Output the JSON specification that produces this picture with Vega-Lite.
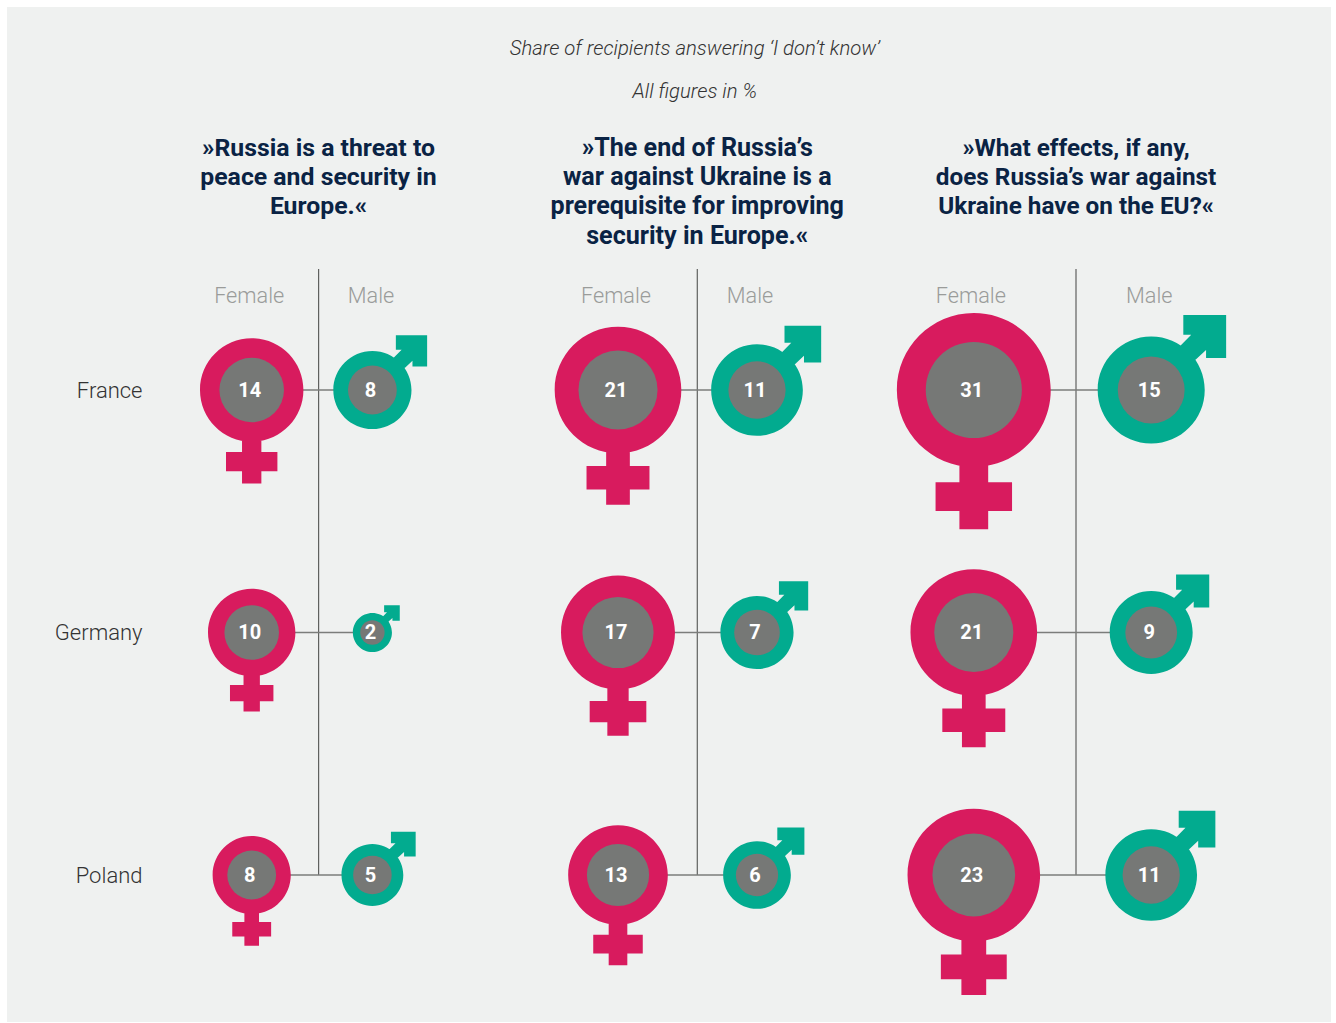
{
"$schema":"https://vega.github.io/schema/vega-lite/v6.json",
"width":1324,"height":1015,
"autosize":{"type":"none"},
"padding":{"left":7,"top":7,"right":5,"bottom":1},
"background":"#ffffff",
"view":{"fill":"#eff1f0","stroke":null},
"config":{"font":"Roboto","text":{"font":"Roboto"},"axis":{"labelFont":"Roboto"}},
"datasets":{
"answers":[
{"question":"Q1","country":"France","gender":"Female","share":14},
{"question":"Q1","country":"France","gender":"Male","share":8},
{"question":"Q1","country":"Germany","gender":"Female","share":10},
{"question":"Q1","country":"Germany","gender":"Male","share":2},
{"question":"Q1","country":"Poland","gender":"Female","share":8},
{"question":"Q1","country":"Poland","gender":"Male","share":5},
{"question":"Q2","country":"France","gender":"Female","share":21},
{"question":"Q2","country":"France","gender":"Male","share":11},
{"question":"Q2","country":"Germany","gender":"Female","share":17},
{"question":"Q2","country":"Germany","gender":"Male","share":7},
{"question":"Q2","country":"Poland","gender":"Female","share":13},
{"question":"Q2","country":"Poland","gender":"Male","share":6},
{"question":"Q3","country":"France","gender":"Female","share":31},
{"question":"Q3","country":"France","gender":"Male","share":15},
{"question":"Q3","country":"Germany","gender":"Female","share":21},
{"question":"Q3","country":"Germany","gender":"Male","share":9},
{"question":"Q3","country":"Poland","gender":"Female","share":23},
{"question":"Q3","country":"Poland","gender":"Male","share":11}
],
"dividers":[
{"question":"Q1","level":"top"},{"question":"Q1","level":"Poland"},
{"question":"Q2","level":"top"},{"question":"Q2","level":"Poland"},
{"question":"Q3","level":"top"},{"question":"Q3","level":"Poland"}
],
"genders":[{"gender":"Female"},{"gender":"Male"}],
"titles":[
{"question":"Q1","line":"1","text":"»Russia is a threat to"},
{"question":"Q1","line":"2","text":"peace and security in"},
{"question":"Q1","line":"3","text":"Europe.«"},
{"question":"Q2","line":"1","text":"»The end of Russia’s"},
{"question":"Q2","line":"2","text":"war against Ukraine is a"},
{"question":"Q2","line":"3","text":"prerequisite for improving"},
{"question":"Q2","line":"4","text":"security in Europe.«"},
{"question":"Q3","line":"1","text":"»What effects, if any,"},
{"question":"Q3","line":"2","text":"does Russia’s war against"},
{"question":"Q3","line":"3","text":"Ukraine have on the EU?«"}
],
"notes":[
{"question":"Q2","line":"a","text":"Share of recipients answering ‘I don’t know’"},
{"question":"Q2","line":"b","text":"All figures in %"}
]
},
"resolve":{"scale":{"x":"independent","y":"independent","size":"independent"}},
"layer":[
{"data":{"name":"dividers"},
 "mark":{"type":"line","color":"#5f615f","strokeWidth":1.2},
 "encoding":{
  "x":{"field":"question","type":"nominal","axis":null,"scale":{"type":"point","padding":0,"domain":["Q1","Q2","Q3"],"range":[311.6,1069]}},
  "y":{"field":"level","type":"nominal","axis":null,"sort":null,"scale":{"type":"point","padding":0,"domain":["top","Poland"],"range":[262,868]}},
  "detail":{"field":"question"}
 }},
{"data":{"name":"titles"},
 "mark":{"type":"text","font":"Roboto","fontWeight":"bold","color":"#0a2344","align":"center","baseline":"alphabetic"},
 "encoding":{
  "x":{"field":"question","type":"nominal","axis":null,"scale":{"type":"point","padding":0,"domain":["Q1","Q2","Q3"],"range":[311.5,1069]}},
  "y":{"field":"line","type":"nominal","axis":null,"scale":{"type":"point","padding":0,"domain":["1","2","3","4"],"range":[148.7,236.7]}},
  "size":{"field":"question","type":"ordinal","legend":null,"scale":{"type":"ordinal","domain":["Q1","Q2","Q3"],"range":[24.8,25.1,24.3]}},
  "text":{"field":"text"}
 }},
{"data":{"name":"notes"},
 "mark":{"type":"text","font":"Roboto","fontWeight":300,"fontStyle":"italic","fontSize":20.3,"color":"#333333","align":"center","baseline":"alphabetic","dx":-2.5},
 "encoding":{
  "x":{"field":"question","type":"nominal","axis":null,"scale":{"type":"point","padding":0,"domain":["Q1","Q2","Q3"],"range":[311.5,1069]}},
  "y":{"field":"line","type":"nominal","axis":null,"scale":{"type":"point","padding":0,"domain":["a","b"],"range":[48,91]}},
  "text":{"field":"text"}
 }},
{"data":{"name":"genders"},
 "mark":{"type":"text","font":"Roboto","fontWeight":300,"fontSize":21.7,"color":"#9a9c9a","align":"center","baseline":"middle"},
 "encoding":{
  "x":{"field":"gender","type":"nominal","axis":null,"scale":{"type":"point","padding":0,"domain":["Female","Male"],"range":[242.2,364]}},
  "y":{"datum":"head","type":"nominal","axis":null,"scale":{"type":"point","padding":0,"domain":["head","end"],"range":[289,1000]}},
  "text":{"field":"gender"}
 }},
{"data":{"name":"genders"},
 "mark":{"type":"text","font":"Roboto","fontWeight":300,"fontSize":21.7,"color":"#9a9c9a","align":"center","baseline":"middle"},
 "encoding":{
  "x":{"field":"gender","type":"nominal","axis":null,"scale":{"type":"point","padding":0,"domain":["Female","Male"],"range":[609,743]}},
  "y":{"datum":"head","type":"nominal","axis":null,"scale":{"type":"point","padding":0,"domain":["head","end"],"range":[289,1000]}},
  "text":{"field":"gender"}
 }},
{"data":{"name":"genders"},
 "mark":{"type":"text","font":"Roboto","fontWeight":300,"fontSize":21.7,"color":"#9a9c9a","align":"center","baseline":"middle"},
 "encoding":{
  "x":{"field":"gender","type":"nominal","axis":null,"scale":{"type":"point","padding":0,"domain":["Female","Male"],"range":[963.8,1142.3]}},
  "y":{"datum":"head","type":"nominal","axis":null,"scale":{"type":"point","padding":0,"domain":["head","end"],"range":[289,1000]}},
  "text":{"field":"gender"}
 }},
{"data":{"name":"answers"},
 "transform":[{"filter":"datum.question==='Q1'"}],
 "resolve":{"scale":{"size":"independent"}},
 "encoding":{
  "x":{"field":"gender","type":"nominal","axis":null,"scale":{"type":"point","padding":0,"domain":["Female","Male"],"range":[244.7,365.4]}},
  "y":{"field":"country","type":"nominal","title":null,"scale":{"type":"point","padding":0,"domain":["France","Germany","Poland"],"range":[383,868]},
   "axis":{"orient":"left","offset":-135,"domain":false,"ticks":false,"grid":false,"labelPadding":0,"labelFont":"Roboto","labelFontWeight":300,"labelFontSize":22,"labelColor":"#333333"}}
 },
 "layer":[
  {"mark":{"type":"line","color":"#7b7d7b","strokeWidth":1.4},"encoding":{"detail":{"field":"country"}}},
  {"mark":{"type":"point","filled":true,"opacity":1},
   "encoding":{
    "shape":{"field":"gender","type":"nominal","legend":null,"scale":{"domain":["Female","Male"],"range":["M1,0A1,1 0 1,1 -1,0A1,1 0 1,1 1,0ZM-0.187,0.9L0.187,0.9L0.187,1.2L0.497,1.2L0.497,1.573L0.187,1.573L0.187,1.81L-0.187,1.81L-0.187,1.573L-0.497,1.573L-0.497,1.2L-0.187,1.2Z","M1,0A1,1 0 1,1 -1,0A1,1 0 1,1 1,0ZM0.55,-0.83L0.748,-1.03L0.6,-1.03L0.6,-1.4L1.4,-1.4L1.4,-0.6L1.025,-0.6L1.025,-0.748L0.828,-0.563Z"]}},
    "color":{"field":"gender","type":"nominal","legend":null,"scale":{"domain":["Female","Male"],"range":["#d81b5e","#02ab8f"]}},
    "size":{"field":"share","type":"quantitative","legend":null,"scale":{"domain":[0,31],"range":[0,23684]}}
   }},
  {"mark":{"type":"circle","color":"#767876","opacity":1},
   "encoding":{"size":{"field":"share","type":"quantitative","legend":null,"scale":{"domain":[0,31],"range":[0,9238]}}}},
  {"mark":{"type":"text","font":"Roboto","fontWeight":"bold","fontSize":20,"color":"#ffffff","align":"center","baseline":"middle","dx":-2,"dy":0.7},
   "encoding":{"text":{"field":"share","type":"quantitative"}}}
 ]},
{"data":{"name":"answers"},
 "transform":[{"filter":"datum.question==='Q2'"}],
 "resolve":{"scale":{"size":"independent"}},
 "encoding":{
  "x":{"field":"gender","type":"nominal","axis":null,"scale":{"type":"point","padding":0,"domain":["Female","Male"],"range":[611,750]}},
  "y":{"field":"country","type":"nominal","axis":null,"scale":{"type":"point","padding":0,"domain":["France","Germany","Poland"],"range":[383,868]}}
 },
 "layer":[
  {"mark":{"type":"line","color":"#7b7d7b","strokeWidth":1.4},"encoding":{"detail":{"field":"country"}}},
  {"mark":{"type":"point","filled":true,"opacity":1},
   "encoding":{
    "shape":{"field":"gender","type":"nominal","legend":null,"scale":{"domain":["Female","Male"],"range":["M1,0A1,1 0 1,1 -1,0A1,1 0 1,1 1,0ZM-0.187,0.9L0.187,0.9L0.187,1.2L0.497,1.2L0.497,1.573L0.187,1.573L0.187,1.81L-0.187,1.81L-0.187,1.573L-0.497,1.573L-0.497,1.2L-0.187,1.2Z","M1,0A1,1 0 1,1 -1,0A1,1 0 1,1 1,0ZM0.55,-0.83L0.748,-1.03L0.6,-1.03L0.6,-1.4L1.4,-1.4L1.4,-0.6L1.025,-0.6L1.025,-0.748L0.828,-0.563Z"]}},
    "color":{"field":"gender","type":"nominal","legend":null,"scale":{"domain":["Female","Male"],"range":["#d81b5e","#02ab8f"]}},
    "size":{"field":"share","type":"quantitative","legend":null,"scale":{"domain":[0,31],"range":[0,23684]}}
   }},
  {"mark":{"type":"circle","color":"#767876","opacity":1},
   "encoding":{"size":{"field":"share","type":"quantitative","legend":null,"scale":{"domain":[0,31],"range":[0,9238]}}}},
  {"mark":{"type":"text","font":"Roboto","fontWeight":"bold","fontSize":20,"color":"#ffffff","align":"center","baseline":"middle","dx":-2,"dy":0.7},
   "encoding":{"text":{"field":"share","type":"quantitative"}}}
 ]},
{"data":{"name":"answers"},
 "transform":[{"filter":"datum.question==='Q3'"}],
 "resolve":{"scale":{"size":"independent"}},
 "encoding":{
  "x":{"field":"gender","type":"nominal","axis":null,"scale":{"type":"point","padding":0,"domain":["Female","Male"],"range":[966.8,1144.2]}},
  "y":{"field":"country","type":"nominal","axis":null,"scale":{"type":"point","padding":0,"domain":["France","Germany","Poland"],"range":[383,868]}}
 },
 "layer":[
  {"mark":{"type":"line","color":"#7b7d7b","strokeWidth":1.4},"encoding":{"detail":{"field":"country"}}},
  {"mark":{"type":"point","filled":true,"opacity":1},
   "encoding":{
    "shape":{"field":"gender","type":"nominal","legend":null,"scale":{"domain":["Female","Male"],"range":["M1,0A1,1 0 1,1 -1,0A1,1 0 1,1 1,0ZM-0.187,0.9L0.187,0.9L0.187,1.2L0.497,1.2L0.497,1.573L0.187,1.573L0.187,1.81L-0.187,1.81L-0.187,1.573L-0.497,1.573L-0.497,1.2L-0.187,1.2Z","M1,0A1,1 0 1,1 -1,0A1,1 0 1,1 1,0ZM0.55,-0.83L0.748,-1.03L0.6,-1.03L0.6,-1.4L1.4,-1.4L1.4,-0.6L1.025,-0.6L1.025,-0.748L0.828,-0.563Z"]}},
    "color":{"field":"gender","type":"nominal","legend":null,"scale":{"domain":["Female","Male"],"range":["#d81b5e","#02ab8f"]}},
    "size":{"field":"share","type":"quantitative","legend":null,"scale":{"domain":[0,31],"range":[0,23684]}}
   }},
  {"mark":{"type":"circle","color":"#767876","opacity":1},
   "encoding":{"size":{"field":"share","type":"quantitative","legend":null,"scale":{"domain":[0,31],"range":[0,9238]}}}},
  {"mark":{"type":"text","font":"Roboto","fontWeight":"bold","fontSize":20,"color":"#ffffff","align":"center","baseline":"middle","dx":-2,"dy":0.7},
   "encoding":{"text":{"field":"share","type":"quantitative"}}}
 ]}
]
}
